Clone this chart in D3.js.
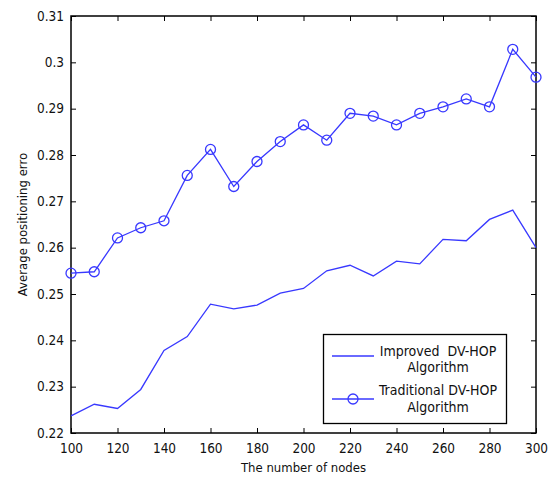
<!DOCTYPE html>
<html>
<head>
<meta charset="UTF-8">
<style>
  body { margin: 0; background: #fff; }
  svg text { font-family: 'Liberation Sans Narrow', 'Arial Narrow', 'DejaVu Sans Condensed', sans-serif; font-stretch: condensed; fill: #111; white-space: pre; }
  .axis path, .axis line { stroke: #000; }
</style>
</head>
<body>
<script src="https://d3js.org/d3.v7.min.js"></script>
<script>
// data
var nodes = [100, 110, 120, 130, 140, 150, 160, 170, 180, 190, 200, 210, 220, 230, 240, 250, 260, 270, 280, 290, 300];
var improved = [0.2237, 0.2262, 0.2253, 0.2294, 0.2378, 0.2408, 0.2478, 0.2468, 0.2476, 0.2502, 0.2512,
                0.2550, 0.2562, 0.2539, 0.2571, 0.2565, 0.2618, 0.2615, 0.2661, 0.2681, 0.2600];
var traditional = [0.2545, 0.2548, 0.2621, 0.2643, 0.2658, 0.2756, 0.2812, 0.2732, 0.2786, 0.2829, 0.2865,
                   0.2832, 0.2890, 0.2884, 0.2865, 0.2890, 0.2904, 0.2921, 0.2904, 0.3028, 0.2968];
var xTicks = [100, 120, 140, 160, 180, 200, 220, 240, 260, 280, 300];
var yTicks = [0.22, 0.23, 0.24, 0.25, 0.26, 0.27, 0.28, 0.29, 0.3, 0.31];
var legendLabels = [["Improved  DV-HOP", "Algorithm"], ["Traditional DV-HOP", "Algorithm"]];

var W = 550, H = 478;
var margin = {top: 16, right: 14, bottom: 45, left: 71};
var w = W - margin.left - margin.right, h = H - margin.top - margin.bottom;
var blue = "#3838ff";

var svg = d3.select("body").append("svg")
    .attr("width", W).attr("height", H);
var g = svg.append("g")
    .attr("transform", "translate(" + margin.left + "," + margin.top + ")");

var x = d3.scaleLinear().domain([100, 300]).range([0, w]);
var y = d3.scaleLinear().domain([0.22, 0.31]).range([h, 0]);

// axes, ticks inward on all four sides
function styleAxis(sel) {
  sel.attr("class", "axis");
  sel.select(".domain").remove();
  sel.selectAll("text").attr("font-size", "13.5px");
}
g.append("g").attr("transform", "translate(0," + h + ")")
  .call(d3.axisBottom(x).tickValues(xTicks).tickSize(-5).tickPadding(10).tickFormat(d3.format("d")))
  .call(styleAxis);
g.append("g")
  .call(d3.axisLeft(y).tickValues(yTicks).tickSize(-5).tickPadding(7).tickFormat(function(d) { return d3.format("")(+d.toFixed(2)); }))
  .call(styleAxis);
g.append("g")
  .call(d3.axisTop(x).tickValues(xTicks).tickSize(-5).tickFormat(""))
  .call(styleAxis);
g.append("g").attr("transform", "translate(" + w + ",0)")
  .call(d3.axisRight(y).tickValues(yTicks).tickSize(-5).tickFormat(""))
  .call(styleAxis);

g.append("rect").attr("width", w).attr("height", h)
  .attr("fill", "none").attr("stroke", "#000").attr("stroke-width", 1.5);

// series
var line = d3.line().x(function(d, i) { return x(nodes[i]); }).y(function(d) { return y(d); });

g.append("path").datum(improved)
  .attr("d", line).attr("fill", "none").attr("stroke", blue).attr("stroke-width", 1.3);

g.append("path").datum(traditional)
  .attr("d", line).attr("fill", "none").attr("stroke", blue).attr("stroke-width", 1.3);

g.selectAll("circle.trad").data(traditional).enter().append("circle")
  .attr("class", "trad")
  .attr("cx", function(d, i) { return x(nodes[i]); })
  .attr("cy", function(d) { return y(d); })
  .attr("r", 5)
  .attr("fill", "none").attr("stroke", blue).attr("stroke-width", 1.3);

// axis labels
svg.append("text")
  .attr("x", margin.left + w / 2).attr("y", 472)
  .attr("text-anchor", "middle").attr("font-size", "13px")
  .text("The number of nodes");
svg.append("text")
  .attr("transform", "translate(27," + (margin.top + h / 2) + ") rotate(-90)")
  .attr("text-anchor", "middle").attr("font-size", "13px")
  .text("Average positioning erro");

// legend
var lg = svg.append("g");
lg.append("rect").attr("x", 323.5).attr("y", 334.5).attr("width", 183).attr("height", 89)
  .attr("fill", "#fff").attr("stroke", "#000").attr("stroke-width", 1.3);
var rowsY = [356, 399];
legendLabels.forEach(function(lbl, i) {
  lg.append("line").attr("x1", 332).attr("x2", 374).attr("y1", rowsY[i]).attr("y2", rowsY[i])
    .attr("stroke", blue).attr("stroke-width", 1.3);
  if (i === 1) {
    lg.append("circle").attr("cx", 353).attr("cy", rowsY[i]).attr("r", 5)
      .attr("fill", "none").attr("stroke", blue).attr("stroke-width", 1.3);
  }
  lg.append("text").attr("x", 438).attr("y", rowsY[i] + (i === 1 ? -4 : 0))
    .attr("text-anchor", "middle").attr("font-size", "14px").text(lbl[0]);
  lg.append("text").attr("x", 438).attr("y", rowsY[i] + 16 + (i === 1 ? -3 : 0))
    .attr("text-anchor", "middle").attr("font-size", "14px").text(lbl[1]);
});
</script>
</body>
</html>
